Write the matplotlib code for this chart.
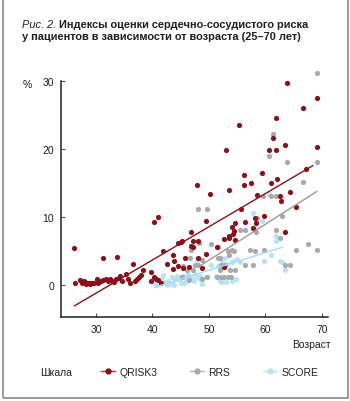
#!/usr/bin/env python
# -*- coding: utf-8 -*-
"""Cardiovascular risk scores by age, scatter with trend lines."""
import matplotlib
matplotlib.use("Agg")
import matplotlib.pyplot as plt
from matplotlib.lines import Line2D
from matplotlib.patches import Rectangle

plt.rcParams["font.family"] = ["Liberation Sans", "DejaVu Sans"]

# QRISK3 points (age, %)
qrisk_age = [
    26.1, 26.3, 27.2, 27.6, 27.9, 28.2, 28.5, 28.9, 29.3, 29.7, 30.1, 30.4,
    30.8, 31.3, 31.3, 31.7, 32.1, 32.5, 32.9, 33.2, 33.7, 34.0, 34.3, 34.6,
    35.3, 35.6, 36.0, 36.5, 37.2, 37.6, 37.9, 38.4, 39.8, 39.8, 40.2, 40.9,
    40.3, 40.6, 41.0, 41.5, 41.8, 28.0, 29.0, 30.6, 33.5, 36.9,
    42.5, 43.6, 43.7, 43.9, 44.5, 44.5, 45.0, 45.2, 45.8, 45.5, 46.4, 46.8,
    46.8, 47.2, 47.1, 47.9, 48.1, 48.0, 48.7, 49.4, 49.4, 50.2,
    51.4, 52.6, 52.6, 53.0, 53.5, 53.6, 53.6, 54.1, 54.2, 54.5, 54.6, 54.7,
    55.4, 55.7, 56.2, 56.2, 56.4, 57.4, 57.8, 58.2, 58.3, 58.5, 59.4, 59.8,
    60.6, 61.0, 61.4, 61.8, 61.9, 62.0, 62.6, 62.8, 63.4, 63.4, 63.9, 64.3,
    65.5, 66.6, 67.2, 69.2, 69.2,
]
qrisk_val = [
    5.4, 0.2, 0.7, 0.2, 0.5, 0.1, 0.3, 0.1, 0.3, 0.2, 0.9, 0.3,
    0.5, 3.9, 0.7, 0.9, 0.5, 0.8, 0.6, 0.4, 4.1, 1.0, 1.3, 0.5,
    1.6, 0.8, 0.3, 3.1, 0.9, 1.1, 1.4, 2.2, 1.9, 0.5, 9.2, 9.9,
    1.2, 0.9, 0.7, 0.2, 5.0, 0.4, 0.2, 0.6, 0.9, 0.6,
    3.1, 2.3, 4.3, 3.5, 2.7, 6.1, 6.3, 6.5, 3.9, 2.4, 2.6, 7.8,
    5.7, 5.6, 6.4, 14.7, 6.4, 3.9, 2.4, 4.5, 9.4, 13.3,
    5.5, 6.7, 2.6, 19.8, 6.8, 13.9, 7.2, 8.5, 7.5, 7.9, 9.1, 6.6,
    23.5, 11.1, 16.2, 14.7, 9.2, 15.0, 8.4, 9.8, 9.1, 13.2, 16.4, 10.1,
    19.8, 15.0, 21.6, 19.8, 24.5, 15.6, 13.0, 12.3, 20.5, 7.8, 29.6, 13.7,
    11.5, 26.0, 17.0, 27.5, 20.2,
]

# RRS points
rrs_age = [
    45.2, 45.5, 46.1, 46.4, 46.7, 46.8, 47.2, 47.6, 48.0, 48.1, 48.3, 48.7,
    48.7, 49.6, 49.7, 50.3, 51.5, 51.6, 51.7, 52.0, 52.0, 52.1, 52.2, 52.7,
    52.9, 53.3, 53.4, 53.6, 53.8, 54.0, 54.1, 54.5, 54.6, 55.5, 56.4, 56.4,
    57.2, 57.8, 58.2, 58.4, 58.4, 58.5, 59.5, 59.8, 60.6, 61.0, 61.4, 61.9,
    61.9, 62.6, 63.0, 63.4, 63.8, 64.3, 65.5, 66.6, 67.5, 69.1, 69.1, 69.1,
]
rrs_val = [
    1.1, 2.8, 2.2, 0.7, 3.9, 5.1, 2.1, 2.9, 11.1, 2.9, 6.1, 3.6,
    0.9, 1.2, 11.1, 6.0, 1.1, 5.5, 3.9, 4.0, 2.1, 1.1, 2.9, 1.1,
    2.9, 5.0, 1.1, 4.3, 2.2, 1.1, 5.1, 5.0, 2.2, 8.0, 8.0, 2.9,
    5.1, 2.9, 4.9, 9.2, 7.8, 9.8, 13.0, 5.1, 19.0, 13.0, 22.1, 13.0,
    8.0, 6.9, 10.1, 2.9, 18.0, 2.9, 5.1, 15.1, 6.0, 31.2, 18.0, 5.1,
]

# SCORE points
score_age = [
    40.3, 40.8, 41.1, 41.6, 42.0, 42.5, 42.8, 43.1, 43.4, 43.7, 44.0, 44.3,
    44.6, 44.9, 45.1, 45.4, 45.8, 46.0, 46.3, 46.7, 47.1, 47.4, 47.6, 47.9,
    48.0, 48.4, 48.4, 48.7, 48.7, 49.4, 50.3, 51.2, 51.7, 52.0, 52.3, 52.3,
    52.8, 53.1, 53.2, 54.1, 54.1, 54.3, 54.8, 54.9, 55.5, 57.9, 59.4, 59.8,
    60.7, 61.0, 61.9, 61.9, 62.6, 62.9, 63.5, 45.6, 41.8, 43.9,
]
score_val = [
    0.35, -0.1, 0.45, 0.9, 0.35, -0.1, 0.6, 0.2, 1.1, 0.1, 0.9, 1.3,
    0.9, 0.8, 0.3, 1.3, 1.1, 0.6, 1.6, 1.2, 0.9, 0.5, 1.6, 3.6,
    1.1, 1.3, 0.9, 2.4, 0.1, 1.1, 2.9, 1.3, 2.7, 0.6, 3.3, 0.35,
    3.9, 0.35, 3.0, 3.3, 0.6, 3.5, 0.8, 3.8, 3.4, 10.5, 9.4, 3.5,
    13.3, 4.4, 7.1, 6.4, 3.5, 3.3, 2.2, 0.2, 1.5, 0.0,
]

# trend lines (age ends, value ends)
qrisk_trend_age = [26.2, 68.4]
qrisk_trend_val = [-3.1, 17.5]
rrs_trend_age = [48.3, 69.1]
rrs_trend_val = [2.7, 13.7]
score_trend_age = [40.3, 63.0]
score_trend_val = [-0.4, 5.5]

x_ticks = [30, 40, 50, 60, 70]
y_ticks = [0, 10, 20, 30]
series_names = ["QRISK3", "RRS", "SCORE"]

RED = "#8a1119"
GREY = "#a9a9a9"
BLUE = "#b8e3f6"
INK = "#231f20"

fig = plt.figure(figsize=(3.5, 4.02), dpi=100)
ax = fig.add_axes([61 / 350, 1 - 318 / 402, 267 / 350, (318 - 64.7) / 402])

ax.scatter(score_age, score_val, s=14, color=BLUE, linewidths=0, zorder=2)
ax.scatter(rrs_age, rrs_val, s=14, color=GREY, linewidths=0, zorder=3)
ax.scatter(qrisk_age, qrisk_val, s=14, color=RED, linewidths=0, zorder=4)

ax.plot(score_trend_age, score_trend_val, color="#a9dcf3", lw=1.0, zorder=5)
ax.plot(rrs_trend_age, rrs_trend_val, color="#9a9a9a", lw=1.0, zorder=5)
ax.plot(qrisk_trend_age, qrisk_trend_val, color=RED, lw=1.0, zorder=5)

ax.set_xlim(23.8, 71.1)
ax.set_ylim(-4.75, 32.5)
ax.set_xticks(x_ticks)
ax.set_yticks(y_ticks)
for side in ("top", "right"):
    ax.spines[side].set_visible(False)
for side in ("left", "bottom"):
    ax.spines[side].set_color(INK)
    ax.spines[side].set_linewidth(1.1)
ax.spines["left"].set_bounds(-4.75, 30)
ax.tick_params(direction="in", length=3, width=0.8, color="#555555",
               labelsize=7.5, labelcolor=INK)
ax.tick_params(axis="x", pad=5)
ax.tick_params(axis="y", pad=5)

# axis captions
fig.text(27 / 350, 1 - 85 / 402, "%", fontsize=7.5, color=INK,
         ha="center", va="center")
fig.text(331 / 350, 1 - 345 / 402, "Возраст", fontsize=7.5, color=INK,
         ha="right", va="center")

# title: italic figure number followed by bold caption
t1 = fig.text(22 / 350, 1 - 28 / 402, "Рис. 2. ", fontsize=7.9,
              style="italic", color=INK, va="baseline")
fig.canvas.draw()
bb = t1.get_window_extent()
x_bold = bb.x1 / fig.bbox.width
fig.text(x_bold, 1 - 28 / 402, "Индексы оценки сердечно-сосудистого риска",
         fontsize=7.9, weight="bold", color=INK, va="baseline")
fig.text(22 / 350, 1 - 40 / 402,
         "у пациентов в зависимости от возраста (25–70 лет)",
         fontsize=7.9, weight="bold", color=INK, va="baseline")

# legend
fig.text(40 / 350, 1 - 373 / 402, "Шкала", fontsize=7.5, color=INK,
         va="center")
handles = [
    Line2D([], [], color="#cf2a4e", lw=1, marker="o", markersize=3.5,
           markerfacecolor=RED, markeredgecolor=RED),
    Line2D([], [], color="#b3b3b3", lw=1, marker="o", markersize=3.5,
           markerfacecolor=GREY, markeredgecolor=GREY),
    Line2D([], [], color="#b8e3f6", lw=1, marker="o", markersize=3.5,
           markerfacecolor=BLUE, markeredgecolor=BLUE),
]
fig.legend(handles, series_names, loc="center left",
           bbox_to_anchor=(93 / 350, 1 - 373 / 402), ncol=3, frameon=False,
           fontsize=7.5, handlelength=1.3, handletextpad=0.45,
           columnspacing=3.15, borderpad=0.3, labelcolor=INK)

# frame around the figure (left, right, bottom)
fig.patches.append(Rectangle((2.5 / 350, 3 / 402), 345 / 350, 1.2,
                             transform=fig.transFigure, fill=False,
                             edgecolor="#8a8a8a", lw=1.2))

fig.savefig("out.png", dpi=100)
